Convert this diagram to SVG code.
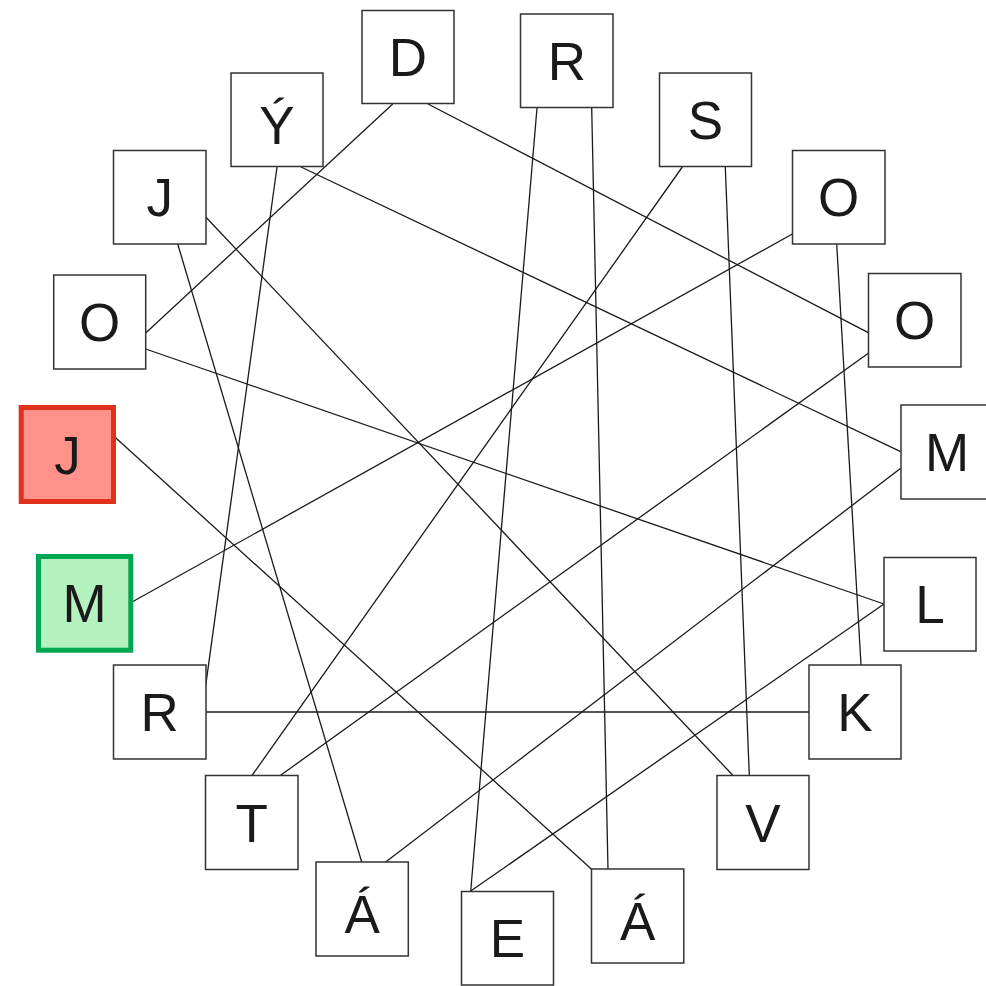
<svg xmlns="http://www.w3.org/2000/svg" width="986" height="986" viewBox="0 0 986 986">
<style>
.n rect{fill:#ffffff;stroke:#333333;stroke-width:1.5}
.n text{font-family:"Liberation Sans",Arial,sans-serif;font-size:53px;fill:#1a1a1a;text-anchor:middle}
#start rect{fill:#ff918b;stroke:#e0301e;stroke-width:5}
#goal rect{fill:#b4f2c0;stroke:#00a651;stroke-width:5}
#edges line{stroke:#1a1a1a;stroke-width:1.3;fill:none}
</style>
<rect x="0" y="0" width="986" height="986" fill="#ffffff"/>
<g id="edges">
<line x1="392.7" y1="104" x2="145.7" y2="333"/>
<line x1="428" y1="104" x2="868.3" y2="332.7"/>
<line x1="537" y1="108" x2="470.7" y2="891.3"/>
<line x1="591.7" y1="108" x2="608" y2="869"/>
<line x1="682.3" y1="167" x2="252" y2="775.5"/>
<line x1="725.3" y1="167" x2="749.3" y2="775.5"/>
<line x1="277" y1="167" x2="205.3" y2="688.3"/>
<line x1="301" y1="167" x2="900.7" y2="451.7"/>
<line x1="177.7" y1="244" x2="361.7" y2="862"/>
<line x1="206" y1="217.3" x2="733" y2="775.5"/>
<line x1="792.3" y1="234" x2="130.7" y2="602.7"/>
<line x1="836.7" y1="244" x2="861" y2="665"/>
<line x1="868.3" y1="353.3" x2="280.3" y2="775.5"/>
<line x1="145.7" y1="349" x2="884" y2="604"/>
<line x1="113.7" y1="436" x2="591.3" y2="869"/>
<line x1="900.7" y1="468.3" x2="385.7" y2="862"/>
<line x1="884" y1="604" x2="470.7" y2="891"/>
<line x1="206" y1="712" x2="809" y2="712"/>
</g>
<g id="nD" class="n"><rect x="362" y="10.5" width="92" height="93"/><text x="408" y="76">D</text></g>
<g id="nR1" class="n"><rect x="520.5" y="14" width="92.5" height="93.5"/><text x="567" y="79.7">R</text></g>
<g id="nS" class="n"><rect x="659.5" y="73" width="92" height="93.5"/><text x="705.5" y="138.7">S</text></g>
<g id="nY" class="n"><rect x="231" y="73" width="92" height="93.5"/><text x="277" y="143.5">Ý</text></g>
<g id="nJ1" class="n"><rect x="113.5" y="150.5" width="92.5" height="93.5"/><text x="159.7" y="216.2">J</text></g>
<g id="nO1" class="n"><rect x="792.5" y="150.5" width="92.5" height="93.5"/><text x="838.7" y="216.2">O</text></g>
<g id="nO2" class="n"><rect x="53.7" y="275" width="92" height="94"/><text x="99.7" y="341">O</text></g>
<g id="nO3" class="n"><rect x="868.5" y="273.5" width="92.5" height="93.5"/><text x="914.7" y="339.2">O</text></g>
<g id="start" class="n"><rect x="21.2" y="407.5" width="92.3" height="94"/><text x="67.4" y="473.5">J</text></g>
<g id="nM1" class="n"><rect x="901" y="405" width="92" height="94"/><text x="947" y="471">M</text></g>
<g id="goal" class="n"><rect x="38.5" y="556.5" width="92.3" height="93.7"/><text x="84.6" y="622.3">M</text></g>
<g id="nL" class="n"><rect x="884" y="557.5" width="92" height="93.5"/><text x="930" y="623.2">L</text></g>
<g id="nR2" class="n"><rect x="113.5" y="665" width="92.5" height="94"/><text x="159.7" y="731">R</text></g>
<g id="nK" class="n"><rect x="809" y="665" width="92" height="94"/><text x="855" y="731">K</text></g>
<g id="nT" class="n"><rect x="205.5" y="775.5" width="92.5" height="94"/><text x="251.7" y="841.5">T</text></g>
<g id="nV" class="n"><rect x="717" y="775.5" width="92" height="94"/><text x="763" y="841.5">V</text></g>
<g id="nA1" class="n"><rect x="316" y="862" width="92.3" height="94"/><text x="362.2" y="932.8">Á</text></g>
<g id="nE" class="n"><rect x="461.5" y="891.5" width="92" height="93.5"/><text x="507.5" y="957.2">E</text></g>
<g id="nA2" class="n"><rect x="591.5" y="869" width="92.3" height="94"/><text x="637.7" y="939.8">Á</text></g>
</svg>
